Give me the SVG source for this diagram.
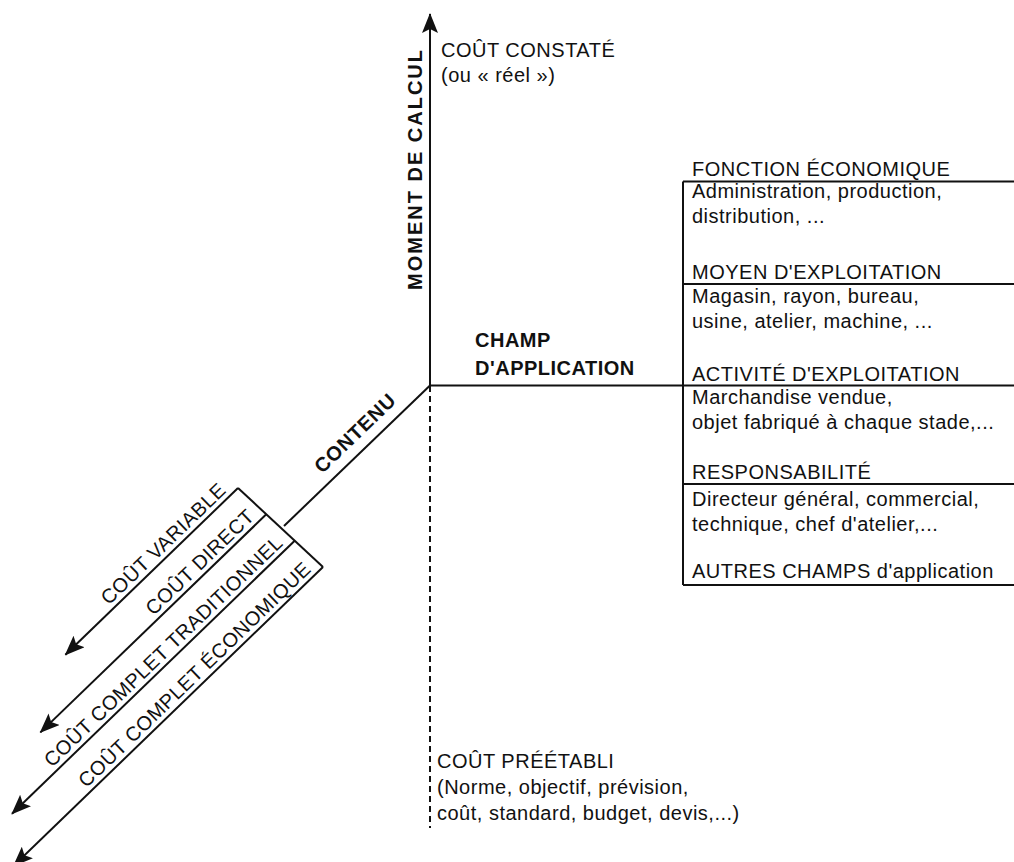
<svg xmlns="http://www.w3.org/2000/svg" width="1014" height="862" viewBox="0 0 1014 862">
<style>
.t{font-family:"Liberation Sans",Arial,Helvetica,sans-serif;font-size:20px;letter-spacing:0.5px;fill:#111}
.b{font-weight:bold}
.ln{stroke:#111;stroke-width:2;fill:none}
.dash{stroke:#111;stroke-width:2;fill:none;stroke-dasharray:6 4}
</style>
<defs>
<marker id="arr" viewBox="0 0 20 16" refX="19" refY="8" markerWidth="20" markerHeight="16" orient="auto" markerUnits="userSpaceOnUse">
<path d="M0,0 L20,8 L0,16 L4,8 Z" fill="#111"/>
</marker>
</defs>
<rect width="1014" height="862" fill="#fff"/>

<g id="connectors">
<line class="ln" x1="430" y1="386" x2="430" y2="14" marker-end="url(#arr)"/>
<line class="dash" x1="430" y1="386" x2="430" y2="828"/>
<line class="ln" x1="430" y1="385.5" x2="1014" y2="385.5"/>
<line class="ln" x1="430" y1="385.5" x2="284" y2="526"/>
<line class="ln" x1="238" y1="488" x2="323" y2="567"/>
<line class="ln" x1="238" y1="488" x2="65.4" y2="654.7" marker-end="url(#arr)"/>
<line class="ln" x1="266.3" y1="514.3" x2="40.4" y2="732.4" marker-end="url(#arr)"/>
<line class="ln" x1="294.7" y1="540.7" x2="12" y2="813.7" marker-end="url(#arr)"/>
<line class="ln" x1="323" y1="567" x2="13.7" y2="865.7" marker-end="url(#arr)"/>
</g>

<g id="axis-moment">
<text class="t b" transform="translate(422,290) rotate(-90)" style="letter-spacing:2px">MOMENT DE CALCUL</text>
</g>

<g id="cout-constate">
<text class="t" x="441" y="57">COÛT CONSTATÉ</text>
<text class="t" x="441" y="82">(ou « réel »)</text>
</g>

<g id="cout-preetabli">
<text class="t" x="437" y="768">COÛT PRÉÉTABLI</text>
<text class="t" x="437" y="794">(Norme, objectif, prévision,</text>
<text class="t" x="437" y="820">coût, standard, budget, devis,...)</text>
</g>

<g id="axis-champ">
<text class="t b" x="475" y="347">CHAMP</text>
<text class="t b" x="475" y="375">D'APPLICATION</text>
</g>

<g id="axis-contenu">
<text class="t b" transform="translate(430,385.5) rotate(-44)" x="-87" y="-11" text-anchor="middle" style="letter-spacing:0.8px">CONTENU</text>
</g>

<g id="contenu-types">
<text class="t" transform="translate(238,488) rotate(-44)" x="-10" y="-5" text-anchor="end">COÛT VARIABLE</text>
<text class="t" transform="translate(266.3,514.3) rotate(-44)" x="-10" y="-5" text-anchor="end">COÛT DIRECT</text>
<text class="t" transform="translate(294.7,540.7) rotate(-44)" x="-10" y="-5" text-anchor="end">COÛT COMPLET TRADITIONNEL</text>
<text class="t" transform="translate(323,567) rotate(-44)" x="-10" y="-5" text-anchor="end">COÛT COMPLET ÉCONOMIQUE</text>
</g>

<g id="champs-box">
<line class="ln" x1="683" y1="181.5" x2="683" y2="585"/>
<line class="ln" x1="683" y1="181.5" x2="1014" y2="181.5"/>
<line class="ln" x1="683" y1="284" x2="1014" y2="284"/>
<line class="ln" x1="683" y1="484" x2="1014" y2="484"/>
<line class="ln" x1="683" y1="585" x2="1014" y2="585"/>
</g>

<g id="fonction-economique">
<text class="t" x="692" y="176">FONCTION ÉCONOMIQUE</text>
<text class="t" x="692" y="198">Administration, production,</text>
<text class="t" x="692" y="223">distribution, ...</text>
</g>

<g id="moyen-exploitation">
<text class="t" x="692" y="279">MOYEN D'EXPLOITATION</text>
<text class="t" x="692" y="303">Magasin, rayon, bureau,</text>
<text class="t" x="692" y="328">usine, atelier, machine, ...</text>
</g>

<g id="activite-exploitation">
<text class="t" x="692" y="381">ACTIVITÉ D'EXPLOITATION</text>
<text class="t" x="692" y="404">Marchandise vendue,</text>
<text class="t" x="692" y="429">objet fabriqué à chaque stade,...</text>
</g>

<g id="responsabilite">
<text class="t" x="692" y="479">RESPONSABILITÉ</text>
<text class="t" x="692" y="506">Directeur général, commercial,</text>
<text class="t" x="692" y="531">technique, chef d'atelier,...</text>
</g>

<g id="autres-champs">
<text class="t" x="692" y="578">AUTRES CHAMPS d'application</text>
</g>
</svg>
